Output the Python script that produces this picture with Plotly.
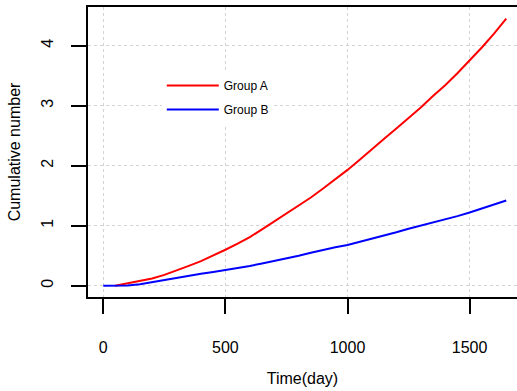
import plotly.graph_objects as go

# Data
days_a = [48, 100, 150, 200, 250, 300, 350, 400, 450, 500, 550, 600, 650, 700,
          750, 800, 850, 900, 950, 1000, 1050, 1100, 1150, 1200, 1250, 1300,
          1350, 1400, 1450, 1500, 1550, 1600, 1650]
group_a = [0, 0.04, 0.08, 0.12, 0.18, 0.25, 0.33, 0.41, 0.5, 0.6, 0.7, 0.81,
           0.94, 1.07, 1.2, 1.33, 1.47, 1.62, 1.77, 1.93, 2.1, 2.28, 2.45,
           2.62, 2.79, 2.97, 3.16, 3.34, 3.54, 3.75, 3.97, 4.2, 4.45]

days_b = [0, 50, 100, 150, 200, 250, 300, 350, 400, 450, 500, 550, 600, 650,
          700, 750, 800, 850, 900, 950, 1000, 1050, 1100, 1150, 1200, 1250,
          1300, 1350, 1400, 1450, 1500, 1550, 1600, 1650]
group_b = [0, 0, 0.005, 0.025, 0.06, 0.1, 0.14, 0.17, 0.2, 0.23, 0.26, 0.29,
           0.33, 0.37, 0.41, 0.46, 0.5, 0.55, 0.6, 0.64, 0.68, 0.73, 0.78,
           0.84, 0.89, 0.95, 1.0, 1.06, 1.11, 1.16, 1.22, 1.29, 1.35, 1.42]

x_ticks = [0, 500, 1000, 1500]
y_ticks = [0, 1, 2, 3, 4]

FONT = "Liberation Sans, Arial, sans-serif"

fig = go.Figure()
fig.add_trace(go.Scatter(x=days_a, y=group_a, mode="lines", name="Group A",
                         line=dict(color="#ff0000", width=2), legendgroup="a"))
fig.add_trace(go.Scatter(x=days_b, y=group_b, mode="lines", name="Group B",
                         line=dict(color="#0000ff", width=2), legendgroup="b"))

fig.update_layout(
    width=517, height=391,
    margin=dict(l=88, r=0, t=7, b=94),
    paper_bgcolor="white", plot_bgcolor="white",
    font=dict(family=FONT, size=16, color="black"),
    showlegend=True,
    legend=dict(x=0.172, y=0.779, xanchor="left", yanchor="top",
                bgcolor="white", borderwidth=0,
                font=dict(size=12, family=FONT, color="black"),
                tracegroupgap=5, itemwidth=52),
    xaxis=dict(range=[-62.7, 1694], tickvals=x_ticks,
               showline=True, linecolor="black", linewidth=2, mirror=True,
               ticks="outside", ticklen=15, tickwidth=2, tickcolor="black",
               ticklabelstandoff=20,
               showgrid=True, gridcolor="#d3d3d3", griddash="dot", gridwidth=1,
               zeroline=False,
               title=dict(text="Time(day)", standoff=18,
                          font=dict(size=16, family=FONT))),
    yaxis=dict(range=[-0.188, 4.645], tickvals=y_ticks,
               showline=True, linecolor="black", linewidth=2, mirror=False,
               ticks="outside", ticklen=15, tickwidth=2, tickcolor="black",
               tickangle=-90, ticklabelstandoff=12,
               showgrid=True, gridcolor="#d3d3d3", griddash="dot", gridwidth=1,
               zeroline=False,
               title=dict(text="Cumulative number", standoff=14,
                          font=dict(size=16, family=FONT))),
)

fig.write_html("out.html")
